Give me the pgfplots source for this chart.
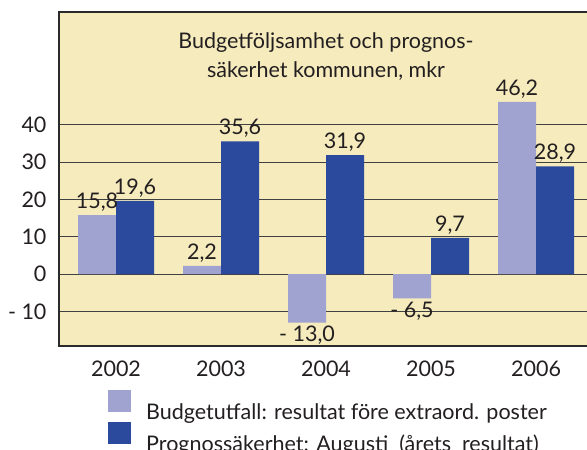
\documentclass[border=0pt]{standalone}
\usepackage{fontspec}
\setmainfont{Lato}
\usepackage{pgfplots}
\pgfplotsset{compat=1.18}
\definecolor{bgyellow}{HTML}{F6EBBD}
\definecolor{lightbar}{HTML}{A0A2D0}
\definecolor{darkbar}{HTML}{2B4A9E}
\definecolor{frame}{HTML}{2A2A2A}
\definecolor{txt}{HTML}{231F20}

\begin{document}
\begin{tikzpicture}
\begin{axis}[
    name=ax,
    at={(0pt,0pt)}, anchor=south west,
    scale only axis,
    width=533pt, height=334pt,
    xmin=-0.543, xmax=4.533,
    ymin=-19.3, ymax=70.3,
    ybar=0pt, bar width=38pt,
    axis background/.style={fill=bgyellow},
    axis line style={frame, line width=2.8pt},
    ytick={-10,0,10,20,30,40},
    yticklabels={- 10,0,10,20,30,40},
    xtick={0,1,2,3,4},
    xticklabels={2002,2003,2004,2005,2006},
    major tick length=0pt,
    ymajorgrids,
    grid style={black!75, line width=0.9pt},
    tick label style={font=\fontsize{21.5}{25}\selectfont, text=txt},
    yticklabel style={xshift=-9pt},
    xticklabel style={yshift=-11pt},
    nodes near coords,
    point meta=explicit symbolic,
    visualization depends on={rawy \as \rawy},
    every node near coord/.append style={font=\fontsize{21.5}{25}\selectfont, text=txt,
      anchor=\ifdim\rawy pt<0pt north\else south\fi},
    legend style={at={(0.092,-0.132)}, anchor=north west, draw=none, fill=none,
      inner sep=0pt, row sep=1pt, nodes={inner sep=0pt, text=txt},
      font=\fontsize{21.5}{25}\selectfont,
      /tikz/every odd column/.append style={column sep=15pt}},
    legend cell align=left,
    clip=false,
  ]

  % Budgetutfall
  \addplot[fill=lightbar, draw=none,
    legend image code/.code={\fill[lightbar] (0pt,0pt) rectangle (23pt,22pt);}]
    coordinates {(0,15.8)[15,8] (1,2.2)[2,2] (2,-13.0)[- 13,0] (3,-6.5)[- 6,5] (4,46.2)[46,2]};
  \addlegendentry{Budgetutfall: resultat före extraord. poster}

  % Prognossakerhet
  \addplot[fill=darkbar, draw=none,
    legend image code/.code={\fill[darkbar] (0pt,0pt) rectangle (23pt,22pt);}]
    coordinates {(0,19.6)[19,6] (1,35.6)[35,6] (2,31.9)[31,9] (3,9.7)[9,7] (4,28.9)[28,9]};
  \addlegendentry{Prognossäkerhet: Augusti\ \ (årets\ \ resultat)}

  \node[font=\fontsize{21.5}{29}\selectfont, text=txt, align=center]
    at (rel axis cs:0.501,0.868) {Budgetföljsamhet och prognos-\\säkerhet kommunen, mkr};

\end{axis}
\pgfresetboundingbox
\path ([shift={(-59pt,-104pt)}]ax.south west) rectangle ([shift={(528pt,12pt)}]ax.north west);
\end{tikzpicture}
\end{document}
